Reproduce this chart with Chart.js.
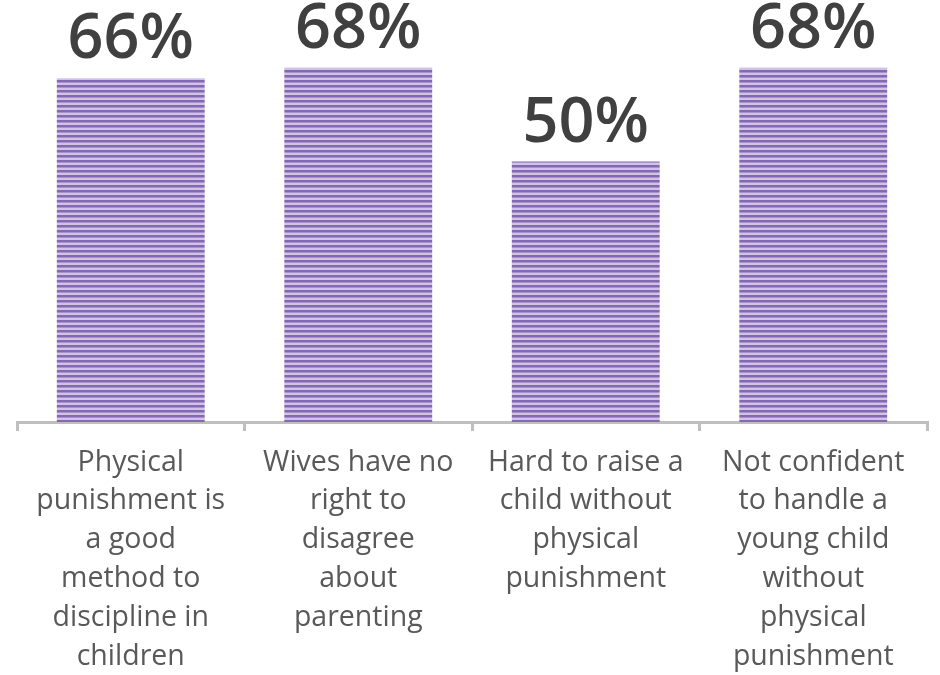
<!DOCTYPE html>
<html><head><meta charset="utf-8">
<script src="https://cdn.jsdelivr.net/npm/chart.js@4/dist/chart.umd.min.js"></script>
<style>html,body{margin:0;padding:0;background:#fff}#wrap{width:940px;height:675px}</style>
</head><body><div id="wrap"><canvas id="c"></canvas></div>
<script>
const categories = [
  ["Physical","punishment is","a good","method to","discipline in","children"],
  ["Wives have no","right to","disagree","about","parenting"],
  ["Hard to raise a","child without","physical","punishment"],
  ["Not confident","to handle a","young child","without","physical","punishment"]
];
const values = [66, 68, 50, 68];

function stripePattern(){
  const p = document.createElement('canvas');
  p.width = 4; p.height = 5;
  const g = p.getContext('2d');
  g.fillStyle = '#d0c3e6'; g.fillRect(0,0,4,5);
  g.fillStyle = '#8468b3'; g.fillRect(0,0,4,2);
  g.fillStyle = '#a892cc'; g.fillRect(0,2,4,1);
  return g.createPattern(p,'repeat');
}
const ctx0 = document.getElementById('c').getContext('2d');
const pat = stripePattern();

const labelPlugin = {
  id:'vals',
  afterDatasetsDraw(chart){
    const ctx = chart.ctx;
    const meta = chart.getDatasetMeta(0);
    ctx.save();
    ctx.font = '600 63px "Open Sans"';
    ctx.fillStyle = '#404040';
    ctx.textAlign = 'center';
    ctx.textBaseline = 'alphabetic';
    meta.data.forEach((bar,i)=>{
      ctx.fillText(values[i] + '%', bar.x, bar.y - 20);
    });
    ctx.restore();
  }
};

new Chart(ctx0, {
  type:'bar',
  data:{labels:categories, datasets:[{data:values, backgroundColor:pat, borderWidth:0, categoryPercentage:0.65, barPercentage:1}]},
  options:{
    responsive:true, maintainAspectRatio:false, animation:false,
    layout:{padding:{left:17,right:13,top:0,bottom:0}},
    plugins:{legend:{display:false}, tooltip:{enabled:false}},
    scales:{
      x:{
        offset:true,
        grid:{offset:true, drawOnChartArea:false, color:'#bfbfbf', lineWidth:3, tickLength:9},
        border:{color:'#bfbfbf', width:3},
        ticks:{color:'#595959', font:{family:'Open Sans', size:28.5, lineHeight:1.365}, maxRotation:0, minRotation:0, autoSkip:false, padding:12},
        afterFit(s){ s.height = 253; }
      },
      y:{
        display:false, min:0, max:81
      }
    }
  },
  plugins:[labelPlugin]
});
</script></body></html>
